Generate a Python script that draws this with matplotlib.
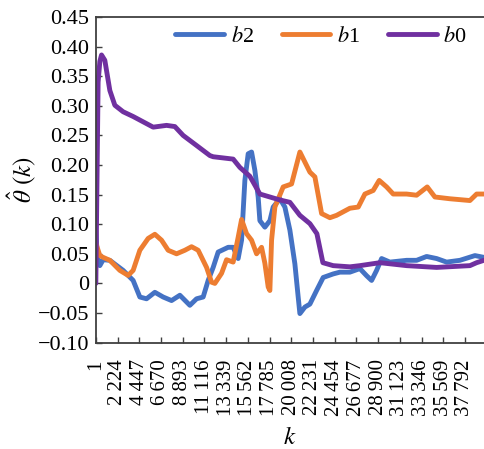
import matplotlib
matplotlib.use("Agg")
import matplotlib.pyplot as plt
from matplotlib.ticker import FixedLocator, FuncFormatter

plt.rcParams['font.family'] = ['Liberation Serif', 'DejaVu Serif']
plt.rcParams['mathtext.fontset'] = 'stix'

# b0 (purple)
k_b0 = [1, 103, 236, 411, 585, 922, 1435, 1947, 2797, 3821, 4845, 5869, 7241, 8091, 8941,
        10313, 11675, 12013, 14061, 14747, 15771, 16795, 17819, 18843, 19867, 20891, 21915,
        22632, 23246, 24301, 26010, 27034, 29082, 31817, 34887, 38298, 38985, 39732]
b0 = [0.0, 0.15, 0.34, 0.375, 0.386, 0.377, 0.326, 0.301, 0.290, 0.282, 0.273, 0.264, 0.267,
      0.265, 0.250, 0.233, 0.216, 0.214, 0.210, 0.196, 0.181, 0.151, 0.146, 0.141, 0.137,
      0.115, 0.101, 0.084, 0.035, 0.030, 0.028, 0.030, 0.035, 0.030, 0.027, 0.030, 0.035, 0.039]

# b1 (orange)
k_b1 = [1, 411, 749, 1435, 2459, 3309, 3821, 4507, 5357, 6043, 6729, 7405, 8265, 9115, 9801,
        10477, 11337, 11849, 12187, 12873, 13385, 14061, 14573, 14921, 15433, 15945, 16457,
        16969, 17307, 17645, 17819, 17993, 18331, 19181, 20041, 20891, 21403, 21915, 22427,
        23114, 23963, 24649, 26010, 26867, 27547, 28397, 29011, 29769, 30445, 31817, 32841,
        33927, 34714, 36249, 38298, 38985, 39732]
b1 = [0.068, 0.047, 0.044, 0.039, 0.022, 0.0135, 0.022, 0.056, 0.076, 0.083, 0.073, 0.056,
      0.050, 0.056, 0.062, 0.056, 0.027, 0.002, 0.0, 0.017, 0.040, 0.036, 0.078, 0.108, 0.084,
      0.073, 0.050, 0.061, 0.034, -0.006, -0.012, 0.073, 0.129, 0.163, 0.168, 0.222, 0.205,
      0.188, 0.180, 0.118, 0.111, 0.115, 0.127, 0.129, 0.151, 0.157, 0.174, 0.163, 0.151,
      0.151, 0.149, 0.163, 0.146, 0.143, 0.140, 0.151, 0.151]

# b2 (blue)
k_b2 = [1, 103, 236, 411, 749, 1435, 2797, 3821, 4507, 5193, 6043, 6893, 7753, 8603, 9627,
        10313, 10989, 11501, 12013, 12525, 13549, 14061, 14573, 14921, 15259, 15597, 15945,
        16283, 16621, 16795, 17307, 17819, 18157, 18843, 19355, 19867, 20379, 20717, 20891,
        21403, 21915, 22601, 23277, 24301, 24987, 26010, 27034, 27721, 28233, 28745, 29257,
        30107, 31817, 32841, 33865, 34887, 35911, 37275, 38811, 39732]
b2 = [0.089, 0.060, 0.039, 0.030, 0.040, 0.039, 0.022, 0.005, -0.023, -0.026, -0.015, -0.023,
      -0.029, -0.020, -0.037, -0.026, -0.023, 0.005, 0.027, 0.053, 0.061, 0.061, 0.042, 0.073,
      0.174, 0.219, 0.222, 0.191, 0.146, 0.106, 0.095, 0.106, 0.129, 0.143, 0.129, 0.090,
      0.033, -0.023, -0.051, -0.040, -0.035, -0.012, 0.010, 0.016, 0.019, 0.019, 0.025, 0.013,
      0.005, 0.022, 0.042, 0.036, 0.039, 0.039, 0.0455, 0.042, 0.036, 0.039, 0.047, 0.044]

x_ticks = [1 + 2223 * i for i in range(18)]
y_ticks = [-0.10, -0.05, 0, 0.05, 0.10, 0.15, 0.20, 0.25, 0.30, 0.35, 0.40, 0.45]

fig = plt.figure(figsize=(4.84, 4.49), dpi=100)
ax = fig.add_axes([0.198, 0.237, 0.802, 0.725])

lw = 3.5
ax.plot(k_b2, b2, color='#4472C4', lw=lw, solid_capstyle='round', solid_joinstyle='round', label='$b$2')
ax.plot(k_b1, b1, color='#ED7D31', lw=lw, solid_capstyle='round', solid_joinstyle='round', label='$b$1')
ax.plot(k_b0, b0, color='#7030A0', lw=lw, solid_capstyle='round', solid_joinstyle='round', label='$b$0')

ax.set_xlim(1, 39740)
ax.set_ylim(-0.10, 0.45)

ax.xaxis.set_major_locator(FixedLocator(x_ticks))
ax.xaxis.set_major_formatter(FuncFormatter(
    lambda v, p: f"{int(round(v)):,}".replace(',', '\u2009')))
ax.yaxis.set_major_locator(FixedLocator(y_ticks))
ax.yaxis.set_major_formatter(FuncFormatter(
    lambda v, p: '0' if abs(v) < 1e-9 else f"{v:.2f}".replace('-', '\u2212')))

ax.tick_params(axis='both', direction='in', length=4, width=1, color='#404040')
ax.tick_params(axis='y', labelsize=16, pad=5)
ax.tick_params(axis='x', labelsize=15, labelrotation=90, pad=12)
for s in ['left', 'bottom', 'top']:
    ax.spines[s].set_color('#404040')
    ax.spines[s].set_linewidth(1.3)
ax.spines['right'].set_visible(False)

ax.set_xlabel('$k$', fontsize=18)
ax.set_ylabel(r'$\hat{\theta}\ (k)$', fontsize=18)
ax.xaxis.set_label_coords(0.5, -0.26)
ax.yaxis.set_label_coords(-0.15, 0.5)

ax.legend(loc='center', bbox_to_anchor=(0.58, 0.94), ncol=3, frameon=False,
          fontsize=16, handlelength=2.2, handletextpad=0.3, columnspacing=1.25)

fig.savefig('out.png', dpi=100)
